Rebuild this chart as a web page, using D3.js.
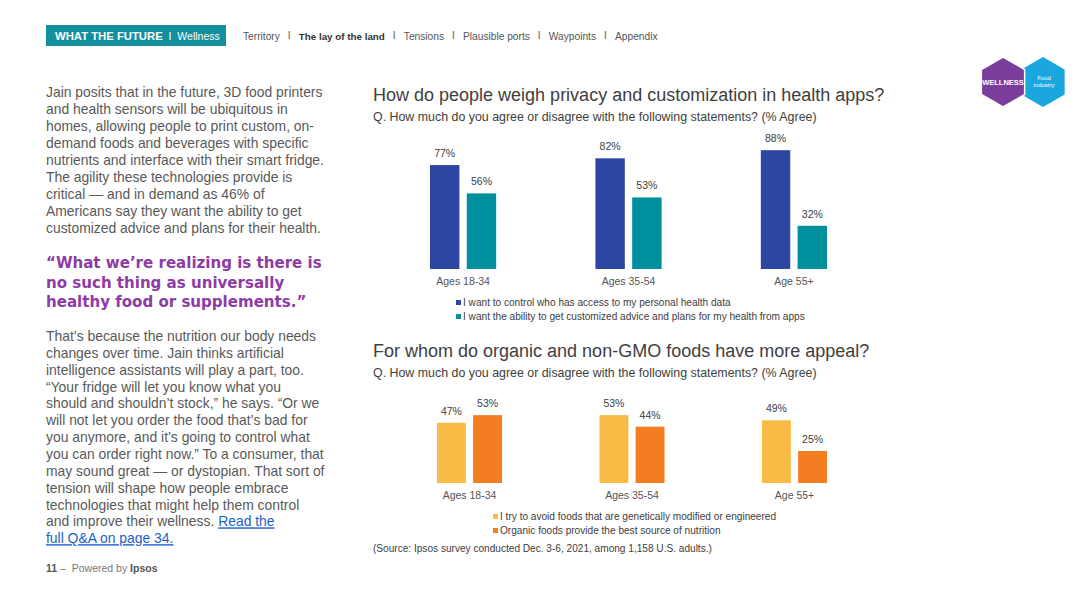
<!DOCTYPE html>
<html>
<head>
<meta charset="utf-8">
<script src="https://cdn.jsdelivr.net/npm/d3@7"></script>
<style>
  body { margin: 0; background: #fff; }
  svg { font-family: "Liberation Sans", Arial, sans-serif; display: block; }
</style>
</head>
<body>
<svg width="1080" height="608"></svg>
<script>
const groups = ['Ages 18-34', 'Ages 35-54', 'Age 55+'];

const privacySeries = [
  'I want to control who has access to my personal health data',
  'I want the ability to get customized advice and plans for my health from apps'
];
const privacyControl = [77, 82, 88];
const privacyAdvice = [56, 53, 32];

const organicSeries = [
  'I try to avoid foods that are genetically modified or engineered',
  'Organic foods provide the best source of nutrition'
];
const organicAvoid = [47, 53, 49];
const organicBest = [53, 44, 25];

const navItems = ['Territory', 'The lay of the land', 'Tensions', 'Plausible ports', 'Waypoints', 'Appendix'];

const introLines = [
  'Jain posits that in the future, 3D food printers',
  'and health sensors will be ubiquitous in',
  'homes, allowing people to print custom, on-',
  'demand foods and beverages with specific',
  'nutrients and interface with their smart fridge.',
  'The agility these technologies provide is',
  'critical — and in demand as 46% of',
  'Americans say they want the ability to get',
  'customized advice and plans for their health.'
];
const quoteLines = [
  '“What we’re realizing is there is',
  'no such thing as universally',
  'healthy food or supplements.”'
];
const bodyLines = [
  'That’s because the nutrition our body needs',
  'changes over time. Jain thinks artificial',
  'intelligence assistants will play a part, too.',
  '“Your fridge will let you know what you',
  'should and shouldn’t stock,” he says. “Or we',
  'will not let you order the food that’s bad for',
  'you anymore, and it’s going to control what',
  'you can order right now.” To a consumer, that',
  'may sound great — or dystopian. That sort of',
  'tension will shape how people embrace',
  'technologies that might help them control',
  'and improve their wellness. '
];

const svg = d3.select('svg');
const textGray = '#595959';

// header bar
svg.append('rect').attr('x', 46).attr('y', 25).attr('width', 180).attr('height', 21).attr('fill', '#138f9e');
const hdr = svg.append('text').attr('x', 55).attr('y', 40).attr('fill', '#fff').attr('font-size', 11.3);
hdr.append('tspan').attr('font-weight', 'bold').text('WHAT THE FUTURE');
hdr.append('tspan').attr('font-size', 10.5).attr('xml:space', 'preserve').text('  I  Wellness');

let navX = 243;
const navGroup = svg.append('g');
navItems.forEach((item, i) => {
  const t = navGroup.append('text')
    .attr('x', navX).attr('y', 40)
    .attr('fill', i === 1 ? '#333' : '#555')
    .attr('font-weight', i === 1 ? 'bold' : 'normal')
    .attr('font-size', i === 1 ? 9.8 : 10.2)
    .text(item);
  const w = t.node().getComputedTextLength();
  if (i < navItems.length - 1) {
    navGroup.append('text').attr('x', navX + w + 8).attr('y', 39)
      .attr('font-size', 10).attr('fill', '#555').text('I');
  }
  navX += w + 19;
});

// hexagon badges
function hexPath(cx, cy, r) {
  const pts = d3.range(6).map(k => {
    const a = Math.PI / 3 * k - Math.PI / 2;
    return [cx + r * Math.cos(a), cy + r * Math.sin(a)];
  });
  return 'M' + pts.join('L') + 'Z';
}
svg.append('path').attr('d', hexPath(1043, 82, 25)).attr('fill', '#1aa6df');
svg.append('path').attr('d', hexPath(1003, 82, 25)).attr('fill', '#7a3d9c').attr('stroke', '#fff').attr('stroke-width', 1.5);
svg.append('text').attr('x', 1003).attr('y', 85).attr('text-anchor', 'middle')
  .attr('font-size', 7.5).attr('font-weight', 'bold').attr('fill', '#fff').text('WELLNESS');
svg.append('text').attr('x', 1044).attr('y', 80).attr('text-anchor', 'middle')
  .attr('font-size', 6).attr('fill', '#fff').text('Food');
svg.append('text').attr('x', 1044).attr('y', 87).attr('text-anchor', 'middle')
  .attr('font-size', 6).attr('fill', '#fff').text('industry');

// left column text
function lines(arr, x, y0, lh, attrs) {
  const t = svg.append('text').attr('x', x).attr('y', y0);
  Object.entries(attrs).forEach(([k, v]) => t.attr(k, v));
  arr.forEach((l, i) => t.append('tspan').attr('x', x).attr('y', y0 + i * lh).text(l));
  return t;
}
lines(introLines, 46, 97, 17, { 'font-size': 13.9, fill: textGray });
lines(quoteLines, 46, 268, 19.5, { 'font-size': 15.05, fill: '#8e3ba6', 'font-weight': 'bold', 'font-family': '"DejaVu Sans", sans-serif' });
const body = lines(bodyLines, 46, 341, 16.85, { 'font-size': 13.9, fill: textGray });
body.select('tspan:last-child').append('tspan').attr('fill', '#1a5fd0').attr('text-decoration', 'underline').text('Read the');
body.append('tspan').attr('x', 46).attr('y', 341 + 12 * 16.85).attr('fill', '#1a5fd0')
  .attr('text-decoration', 'underline').text('full Q&A on page 34.');

// footer
const foot = svg.append('text').attr('x', 46).attr('y', 572).attr('font-size', 10.5).attr('fill', '#777');
foot.append('tspan').attr('font-weight', 'bold').attr('fill', '#555').text('11');
foot.append('tspan').attr('xml:space', 'preserve').text(' –  Powered by ');
foot.append('tspan').attr('font-weight', 'bold').attr('fill', '#555').text('Ipsos');

// grouped bar chart
function barChart(opts) {
  const g = svg.append('g');
  g.append('text').attr('x', 373).attr('y', opts.titleY).attr('font-size', 18).attr('fill', '#404040').text(opts.title);
  g.append('text').attr('x', 373).attr('y', opts.titleY + 20).attr('font-size', 12.4).attr('fill', '#404040').text(opts.subtitle);

  const x0 = d3.scaleBand().domain(groups).range(opts.xRange).paddingInner(0.6);
  const x1 = d3.scaleBand().domain([0, 1]).range([0, x0.bandwidth()]).paddingInner(0.2);
  const y = d3.scaleLinear().domain([0, 100]).range([opts.base, opts.base - opts.full]);

  const rows = groups.map((grp, i) => ({ grp, vals: [opts.a[i], opts.b[i]] }));
  const grp = g.selectAll('.grp').data(rows).enter().append('g')
    .attr('transform', d => `translate(${x0(d.grp)},0)`);
  grp.selectAll('rect').data(d => d.vals).enter().append('rect')
    .attr('x', (d, i) => x1(i)).attr('width', x1.bandwidth())
    .attr('y', d => y(d)).attr('height', d => y(0) - y(d))
    .attr('fill', (d, i) => opts.colors[i]);
  grp.selectAll('.lbl').data(d => d.vals).enter().append('text')
    .attr('x', (d, i) => x1(i) + x1.bandwidth() / 2).attr('y', d => y(d) - 8)
    .attr('text-anchor', 'middle').attr('font-size', 10.5).attr('fill', '#404040')
    .text(d => d + '%');

  const axis = d3.axisBottom(x0).tickSize(0).tickPadding(9);
  const ax = g.append('g').attr('transform', `translate(0,${opts.base})`).call(axis);
  ax.select('.domain').remove();
  ax.selectAll('text').attr('font-size', 10.5).attr('fill', '#555').attr('font-family', null);

  opts.series.forEach((s, i) => {
    const ly = opts.legendY + i * 14;
    g.append('rect').attr('x', opts.legendX).attr('y', ly - 6).attr('width', 5).attr('height', 5).attr('fill', opts.colors[i]);
    g.append('text').attr('x', opts.legendX + 7).attr('y', ly).attr('font-size', 10.1).attr('fill', '#404040').text(s);
  });
}

barChart({
  title: 'How do people weigh privacy and customization in health apps?',
  subtitle: 'Q. How much do you agree or disagree with the following statements? (% Agree)',
  titleY: 101, base: 269, full: 135, xRange: [430, 827],
  a: privacyControl, b: privacyAdvice, series: privacySeries,
  colors: ['#2d46a2', '#008f9c'], legendX: 456, legendY: 306
});

barChart({
  title: 'For whom do organic and non-GMO foods have more appeal?',
  subtitle: 'Q. How much do you agree or disagree with the following statements? (% Agree)',
  titleY: 357, base: 483, full: 128, xRange: [437, 827],
  a: organicAvoid, b: organicBest, series: organicSeries,
  colors: ['#f8bb45', '#f47c21'], legendX: 493, legendY: 520
});

svg.append('text').attr('x', 373).attr('y', 552).attr('font-size', 10.1).attr('fill', '#404040')
  .text('(Source: Ipsos survey conducted Dec. 3-6, 2021, among 1,158 U.S. adults.)');
</script>
</body>
</html>
